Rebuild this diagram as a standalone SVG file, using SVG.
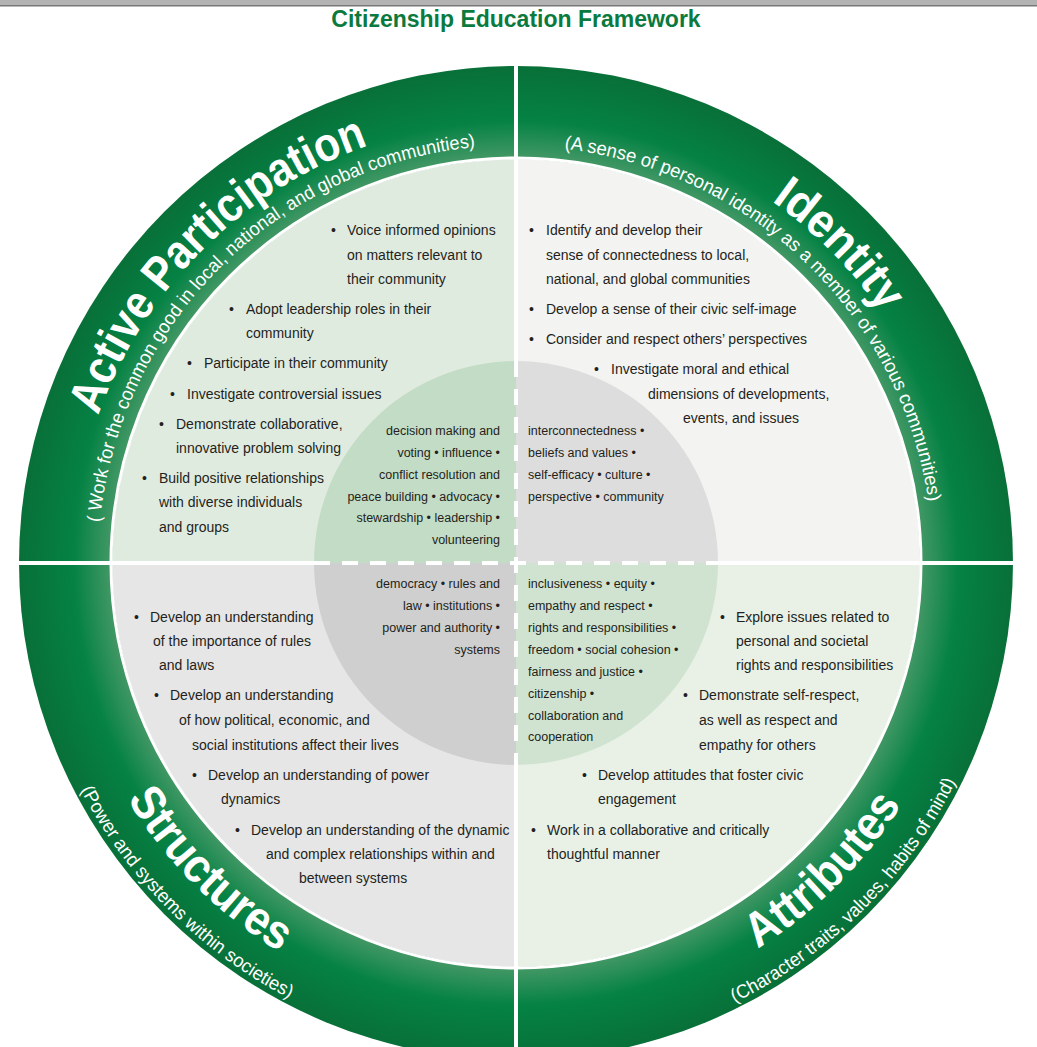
<svg xmlns="http://www.w3.org/2000/svg" xmlns:xlink="http://www.w3.org/1999/xlink" width="1037" height="1047" viewBox="0 0 1037 1047">
<defs>
<radialGradient id="ring" cx="516" cy="563" r="497" gradientUnits="userSpaceOnUse">
<stop offset="0.80" stop-color="#4f9c6c"/>
<stop offset="0.89" stop-color="#058244"/>
<stop offset="1" stop-color="#087038"/>
</radialGradient>
<path id="aTL1" d="M73,563 A443,443 0 0 1 516,120"/>
<path id="aTL2" d="M98,563 A418,418 0 0 1 516,145"/>
<path id="aTR1" d="M516,120 A443,443 0 0 1 959,563"/>
<path id="aTR2" d="M516,146 A417,417 0 0 1 933,563"/>
<path id="aBL1" d="M61,563 A455,455 0 0 0 516,1018"/>
<path id="aBL2" d="M25,563 A491,491 0 0 0 516,1054"/>
<path id="aBR1" d="M516,1018 A455,455 0 0 0 971,563"/>
<path id="aBR2" d="M516,1054 A491,491 0 0 0 1007,563"/>
<style>
.t{font-family:"Liberation Sans",Arial,sans-serif;font-size:14px;fill:#231f20}
.c{font-family:"Liberation Sans",Arial,sans-serif;font-size:12.5px;fill:#231f20}
.r{text-anchor:end}
.h{font-family:"Liberation Sans",Arial,sans-serif;font-weight:bold;font-size:48px;fill:#fff}
.s{font-family:"Liberation Sans",Arial,sans-serif;font-size:19px;fill:#fff}
</style>
</defs>
<rect width="1037" height="1047" fill="#fff"/>
<rect width="1037" height="5" fill="#b3b3b3"/>
<rect y="5" width="1037" height="1.5" fill="#777"/>
<text x="516" y="27" text-anchor="middle" style="font-family:'Liberation Sans',Arial,sans-serif;font-weight:bold;font-size:23px;fill:#0a7a3e">Citizenship Education Framework</text>

<g id="ring-group">
<circle cx="516" cy="563" r="497" fill="url(#ring)"/>
</g>
<g id="quadrants">
<path d="M516,563 L112,563 A404,404 0 0 1 516,159 Z" fill="#e0ebe0"/>
<path d="M516,563 L516,159 A404,404 0 0 1 920,563 Z" fill="#f3f3f1"/>
<path d="M516,563 L112,563 A404,404 0 0 0 516,967 Z" fill="#e6e6e6"/>
<path d="M516,563 L516,967 A404,404 0 0 0 920,563 Z" fill="#e9f1e7"/>
<circle cx="516" cy="563" r="405" fill="none" stroke="#fff" stroke-width="3"/>
<line x1="516" y1="60" x2="516" y2="1070" stroke="#fff" stroke-width="4"/>
<line x1="14" y1="563" x2="1020" y2="563" stroke="#fff" stroke-width="4"/>
</g>
<g id="center">
<path d="M516,563 L314,563 A202,202 0 0 1 516,361 Z" fill="#c3dcc5"/>
<path d="M516,563 L516,361 A202,202 0 0 1 718,563 Z" fill="#dddddd"/>
<path d="M516,563 L314,563 A202,202 0 0 0 516,765 Z" fill="#cfcfcf"/>
<path d="M516,563 L516,765 A202,202 0 0 0 718,563 Z" fill="#cfe3d0"/>
<line x1="516" y1="361" x2="516" y2="765" stroke="#fff" stroke-width="4" stroke-dasharray="16,12"/>
<line x1="314" y1="563" x2="718" y2="563" stroke="#fff" stroke-width="4" stroke-dasharray="16,12"/>
</g>

<g id="ring-labels">
<text class="h"><textPath xlink:href="#aTL1" href="#aTL1" startOffset="50%" text-anchor="middle" textLength="395" lengthAdjust="spacingAndGlyphs">Active Participation</textPath></text>
<text class="s"><textPath xlink:href="#aTL2" href="#aTL2" startOffset="50%" text-anchor="middle" textLength="575" lengthAdjust="spacingAndGlyphs">( Work for the common good in local, national, and global communities)</textPath></text>
<text class="h"><textPath xlink:href="#aTR1" href="#aTR1" startOffset="50.5%" text-anchor="middle" textLength="158" lengthAdjust="spacingAndGlyphs">Identity</textPath></text>
<text class="s"><textPath xlink:href="#aTR2" href="#aTR2" startOffset="49%" text-anchor="middle" textLength="545" lengthAdjust="spacingAndGlyphs">(A sense of personal identity as a member of various communities)</textPath></text>
<text class="h"><textPath xlink:href="#aBL1" href="#aBL1" startOffset="50%" text-anchor="middle" textLength="218" lengthAdjust="spacingAndGlyphs">Structures</textPath></text>
<text class="s"><textPath xlink:href="#aBL2" href="#aBL2" startOffset="50%" text-anchor="middle" textLength="300" lengthAdjust="spacingAndGlyphs">(Power and systems within societies)</textPath></text>
<text class="h"><textPath xlink:href="#aBR1" href="#aBR1" startOffset="50%" text-anchor="middle" textLength="205" lengthAdjust="spacingAndGlyphs">Attributes</textPath></text>
<text class="s"><textPath xlink:href="#aBR2" href="#aBR2" startOffset="50%" text-anchor="middle" textLength="318" lengthAdjust="spacingAndGlyphs">(Character traits, values, habits of mind)</textPath></text>
</g>

<g id="active-participation">
<text class="t" x="331" y="235">•<tspan x="347">Voice informed opinions</tspan></text>
<text class="t" x="347" y="260">on matters relevant to</text>
<text class="t" x="347" y="284">their community</text>
<text class="t" x="229" y="314">•<tspan x="246">Adopt leadership roles in their</tspan></text>
<text class="t" x="246" y="338">community</text>
<text class="t" x="187" y="368">•<tspan x="204">Participate in their community</tspan></text>
<text class="t" x="170" y="399">•<tspan x="187">Investigate controversial issues</tspan></text>
<text class="t" x="159" y="429">•<tspan x="176">Demonstrate collaborative,</tspan></text>
<text class="t" x="176" y="453">innovative problem solving</text>
<text class="t" x="142" y="483">•<tspan x="159">Build positive relationships</tspan></text>
<text class="t" x="159" y="507">with diverse individuals</text>
<text class="t" x="159" y="532">and groups</text>
</g>
<g id="identity">
<text class="t" x="529" y="235">•<tspan x="546">Identify and develop their</tspan></text>
<text class="t" x="546" y="260">sense of connectedness to local,</text>
<text class="t" x="546" y="284">national, and global communities</text>
<text class="t" x="529" y="314">•<tspan x="546">Develop a sense of their civic self-image</tspan></text>
<text class="t" x="529" y="344">•<tspan x="546">Consider and respect others’ perspectives</tspan></text>
<text class="t" x="594" y="374">•<tspan x="611">Investigate moral and ethical</tspan></text>
<text class="t" x="648" y="399">dimensions of developments,</text>
<text class="t" x="683" y="423">events, and issues</text>
</g>
<g id="structures">
<text class="t" x="134" y="622">•<tspan x="150">Develop an understanding</tspan></text>
<text class="t" x="153" y="646">of the importance of rules</text>
<text class="t" x="159" y="670">and laws</text>
<text class="t" x="154" y="700">•<tspan x="170">Develop an understanding</tspan></text>
<text class="t" x="179" y="725">of how political, economic, and</text>
<text class="t" x="192" y="750">social institutions affect their lives</text>
<text class="t" x="192" y="780">•<tspan x="208">Develop an understanding of power</tspan></text>
<text class="t" x="221" y="804">dynamics</text>
<text class="t" x="235" y="835">•<tspan x="251">Develop an understanding of the dynamic</tspan></text>
<text class="t" x="266" y="859">and complex relationships within and</text>
<text class="t" x="299" y="883">between systems</text>
</g>
<g id="attributes">
<text class="t" x="720" y="622">•<tspan x="736">Explore issues related to</tspan></text>
<text class="t" x="736" y="646">personal and societal</text>
<text class="t" x="736" y="670">rights and responsibilities</text>
<text class="t" x="683" y="700">•<tspan x="699">Demonstrate self-respect,</tspan></text>
<text class="t" x="699" y="725">as well as respect and</text>
<text class="t" x="699" y="750">empathy for others</text>
<text class="t" x="582" y="780">•<tspan x="598">Develop attitudes that foster civic</tspan></text>
<text class="t" x="598" y="804">engagement</text>
<text class="t" x="531" y="835">•<tspan x="547">Work in a collaborative and critically</tspan></text>
<text class="t" x="547" y="859">thoughtful manner</text>
</g>
<g id="center-labels">
<text class="c r" x="500" y="435">decision making and</text>
<text class="c r" x="500" y="457">voting • influence •</text>
<text class="c r" x="500" y="479">conflict resolution and</text>
<text class="c r" x="500" y="501">peace building • advocacy •</text>
<text class="c r" x="500" y="522">stewardship • leadership •</text>
<text class="c r" x="500" y="544">volunteering</text>
<text class="c" x="528" y="435">interconnectedness •</text>
<text class="c" x="528" y="457">beliefs and values •</text>
<text class="c" x="528" y="479">self-efficacy • culture •</text>
<text class="c" x="528" y="501">perspective • community</text>
<text class="c r" x="500" y="588">democracy • rules and</text>
<text class="c r" x="500" y="610">law • institutions •</text>
<text class="c r" x="500" y="632">power and authority •</text>
<text class="c r" x="500" y="654">systems</text>
<text class="c" x="528" y="588">inclusiveness • equity •</text>
<text class="c" x="528" y="610">empathy and respect •</text>
<text class="c" x="528" y="632">rights and responsibilities •</text>
<text class="c" x="528" y="654">freedom • social cohesion •</text>
<text class="c" x="528" y="676">fairness and justice •</text>
<text class="c" x="528" y="698">citizenship •</text>
<text class="c" x="528" y="720">collaboration and</text>
<text class="c" x="528" y="741">cooperation</text>
</g>
</svg>
